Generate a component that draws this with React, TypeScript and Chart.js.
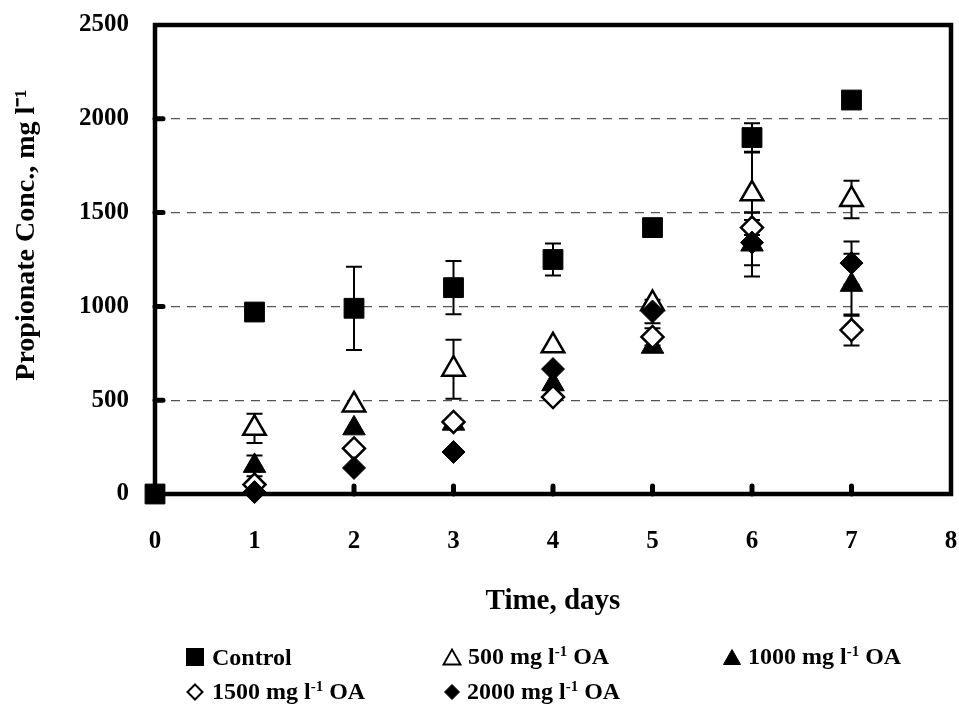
import React, { useEffect, useRef } from "react";
import { Chart, registerables } from "chart.js";

Chart.register(...registerables);

// ---- data ----
const days = [0, 1, 2, 3, 4, 5, 6, 7];
const seriesNames = ["Control", "500 mg l⁻¹ OA", "1000 mg l⁻¹ OA", "1500 mg l⁻¹ OA", "2000 mg l⁻¹ OA"];
const control = [0, 970, 990, 1100, 1250, 1420, 1900, 2100];
const controlErr = [0, 0, 222, 142, 85, 0, 76, 0];
const oa500 = [null, 350, 475, 665, 790, 1015, 1600, 1570];
const oa500Err = [0, 78, 0, 157, 0, 0, 220, 100];
const oa1000 = [null, 150, 350, 375, 585, 785, 1330, 1115];
const oa1000Err = [0, 55, 0, 0, 0, 0, 170, 165];
const oa1500 = [null, 50, 243, 384, 517, 837, 1420, 874];
const oa1500Err = [0, 0, 0, 0, 0, 46, 80, 83];
const oa2000 = [null, 10, 139, 224, 666, 973, 1340, 1231];
const oa2000Err = [0, 0, 0, 0, 0, 63, 120, 115];
const xTicks = [0, 1, 2, 3, 4, 5, 6, 7, 8];
const yTicks = [0, 500, 1000, 1500, 2000, 2500];
const xTitle = "Time, days";
const yTitle = "Propionate Conc., mg l⁻¹";

const allValues = [control, oa500, oa1000, oa1500, oa2000];
const allErrs = [controlErr, oa500Err, oa1000Err, oa1500Err, oa2000Err];

const FONT = "'Liberation Serif', 'Times New Roman', serif";

const styles = [
  { pointStyle: "rect", radius: 14, bg: "#000", border: "#000", bw: 1 },
  { pointStyle: "triangle", radius: 13, bg: "#fff", border: "#000", bw: 2.5 },
  { pointStyle: "triangle", radius: 13, bg: "#000", border: "#000", bw: 1 },
  { pointStyle: "rectRot", radius: 11, bg: "#fff", border: "#000", bw: 2.5 },
  { pointStyle: "rectRot", radius: 11.5, bg: "#000", border: "#000", bw: 1 },
];

const framePlugin = {
  id: "frameAndErrors",
  beforeDatasetsDraw(chart: any) {
    const { ctx, chartArea, scales } = chart;
    const xs = scales.x;
    const ys = scales.y;
    ctx.save();
    ctx.strokeStyle = "#000";
    // frame
    ctx.lineWidth = 4.5;
    ctx.strokeRect(chartArea.left, chartArea.top, chartArea.right - chartArea.left, chartArea.bottom - chartArea.top);
    // inner tick marks
    ctx.lineCap = "round";
    ctx.lineWidth = 5;
    xTicks.forEach((v) => {
      if (v === xTicks[0] || v === xTicks[xTicks.length - 1]) return;
      const px = xs.getPixelForValue(v);
      ctx.beginPath();
      ctx.moveTo(px, chartArea.bottom);
      ctx.lineTo(px, chartArea.bottom - 8);
      ctx.stroke();
    });
    yTicks.forEach((v) => {
      if (v === yTicks[0] || v === yTicks[yTicks.length - 1]) return;
      const py = ys.getPixelForValue(v);
      ctx.beginPath();
      ctx.moveTo(chartArea.left, py);
      ctx.lineTo(chartArea.left + 8, py);
      ctx.stroke();
    });
    // error bars
    ctx.lineCap = "butt";
    ctx.lineWidth = 2;
    allValues.forEach((vals, si) => {
      const errs = allErrs[si];
      vals.forEach((v, i) => {
        const e = errs[i];
        if (v === null || !e) return;
        const px = xs.getPixelForValue(days[i]);
        const top = ys.getPixelForValue((v as number) + e);
        const bot = ys.getPixelForValue((v as number) - e);
        ctx.beginPath();
        ctx.moveTo(px, top);
        ctx.lineTo(px, bot);
        ctx.moveTo(px - 8, top);
        ctx.lineTo(px + 8, top);
        ctx.moveTo(px - 8, bot);
        ctx.lineTo(px + 8, bot);
        ctx.stroke();
      });
    });
    ctx.restore();
  },
};

function LegendMarker({ kind }: { kind: number }) {
  const base: React.CSSProperties = { display: "inline-block", boxSizing: "border-box" };
  if (kind === 0) return <span style={{ ...base, width: 18, height: 18, background: "#000" }} />;
  if (kind === 1 || kind === 2) {
    return (
      <svg width="20" height="18" viewBox="0 0 20 18" style={{ display: "block" }}>
        <polygon points="10,1.5 18.5,16.5 1.5,16.5" fill={kind === 2 ? "#000" : "#fff"} stroke="#000" strokeWidth={kind === 2 ? 1 : 1.8} />
      </svg>
    );
  }
  return (
    <svg width="18" height="18" viewBox="0 0 18 18" style={{ display: "block" }}>
      <polygon points="9,1.5 16.5,9 9,16.5 1.5,9" fill={kind === 4 ? "#000" : "#fff"} stroke="#000" strokeWidth={kind === 4 ? 1 : 2} />
    </svg>
  );
}

const legendPos = [
  { left: 186, top: 657 },
  { left: 442, top: 657 },
  { left: 722, top: 657 },
  { left: 186, top: 692 },
  { left: 443, top: 692 },
];

function legendText(name: string) {
  const m = name.match(/^(.*l)⁻¹(.*)$/);
  if (!m) return <>{name}</>;
  return (
    <>
      {m[1]}
      <span style={{ fontSize: 15, position: "relative", top: -8 }}>-1</span>
      {m[2]}
    </>
  );
}

export default function App() {
  const ref = useRef<HTMLCanvasElement>(null);
  useEffect(() => {
    if (!ref.current) return;
    const datasets = allValues.map((vals, si) => ({
      label: seriesNames[si],
      data: vals.map((v, i) => ({ x: days[i], y: v })),
      pointStyle: styles[si].pointStyle as any,
      pointRadius: styles[si].radius,
      pointBackgroundColor: styles[si].bg,
      pointBorderColor: styles[si].border,
      pointBorderWidth: styles[si].bw,
      showLine: false,
      clip: false as any,
      order: 4 - si,
    }));
    const chart = new Chart(ref.current, {
      type: "scatter",
      data: { datasets },
      plugins: [framePlugin],
      options: {
        animation: false,
        responsive: false,
        devicePixelRatio: 1,
        events: [],
        layout: { autoPadding: false, padding: { top: 25, right: 8, left: 0, bottom: 0 } },
        plugins: { legend: { display: false }, tooltip: { enabled: false } },
        scales: {
          x: {
            type: "linear",
            min: 0,
            max: 8,
            afterBuildTicks: (s: any) => {
              s.ticks = xTicks.map((v) => ({ value: v }));
            },
            afterFit: (s: any) => {
              s.height = 220;
              s.paddingLeft = 0;
              s.paddingRight = 0;
              s.paddingTop = 0;
              s.paddingBottom = 0;
            },
            grid: { display: false, drawTicks: false },
            border: { display: false },
            ticks: {
              color: "#000",
              padding: 33,
              callback: (v: any) => String(v),
              font: { family: FONT, size: 25, weight: "bold" },
            },
            title: {
              display: true,
              text: xTitle,
              color: "#000",
              font: { family: FONT, size: 29, weight: "bold" },
              padding: { top: 0, bottom: 95 },
            },
          },
          y: {
            type: "linear",
            min: 0,
            max: 2500,
            afterBuildTicks: (s: any) => {
              s.ticks = yTicks.map((v) => ({ value: v }));
            },
            afterFit: (s: any) => {
              s.width = 155;
              s.paddingLeft = 0;
              s.paddingRight = 0;
              s.paddingTop = 0;
              s.paddingBottom = 0;
            },
            grid: {
              drawTicks: false,
              color: (c: any) => (c.tick && (c.tick.value === 0 || c.tick.value === 2500) ? "rgba(0,0,0,0)" : "#555"),
              lineWidth: 1.2,
            },
            border: { display: false, dash: [9, 7] },
            ticks: {
              color: "#000",
              padding: 26,
              callback: (v: any) => String(v),
              font: { family: FONT, size: 25, weight: "bold" },
            },
            title: {
              display: true,
              text: "       " + yTitle,
              color: "#000",
              font: { family: FONT, size: 28, weight: "bold" },
              padding: { top: 10, bottom: 0 },
            },
          },
        },
      } as any,
    });
    return () => chart.destroy();
  }, []);

  return (
    <div style={{ position: "fixed", left: 0, top: 0, width: 959, height: 714, background: "#fff" }}>
      <canvas ref={ref} width={959} height={714} style={{ width: 959, height: 714, display: "block" }} />
      {seriesNames.map((name, i) => (
        <div
          key={name}
          style={{
            position: "absolute",
            left: legendPos[i].left,
            top: legendPos[i].top - 15,
            height: 30,
            display: "flex",
            alignItems: "center",
            gap: i === 0 || i === 3 ? 8 : 6,
            fontFamily: FONT,
            fontWeight: "bold",
            fontSize: 24,
            lineHeight: "30px",
            whiteSpace: "nowrap",
            color: "#000",
          }}
        >
          <LegendMarker kind={i} />
          <span>{legendText(name)}</span>
        </div>
      ))}
    </div>
  );
}
